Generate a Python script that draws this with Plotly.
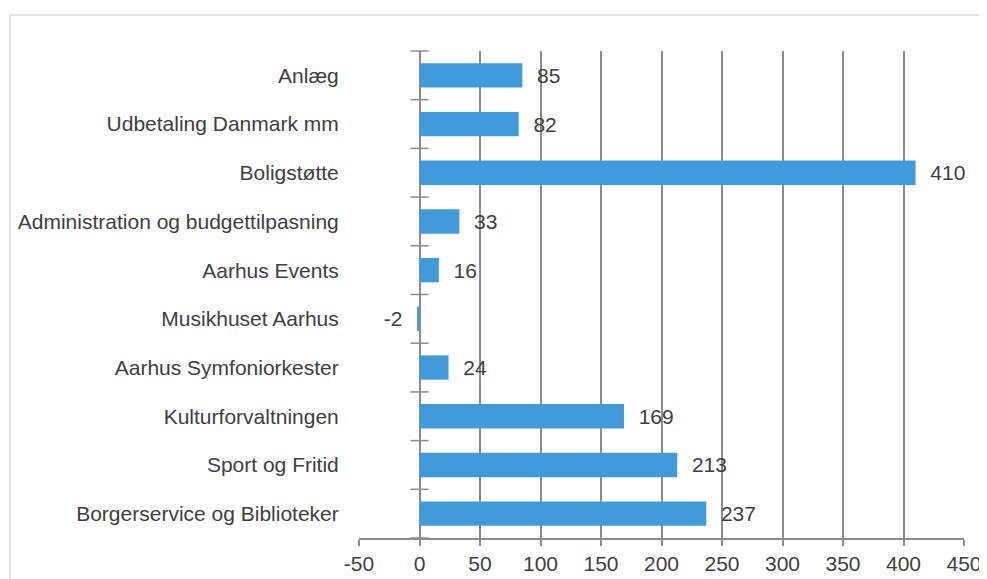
import plotly.graph_objects as go

categories = ['Anlæg', 'Udbetaling Danmark mm', 'Boligstøtte', 'Administration og budgettilpasning',
              'Aarhus Events', 'Musikhuset Aarhus', 'Aarhus Symfoniorkester', 'Kulturforvaltningen',
              'Sport og Fritid', 'Borgerservice og Biblioteker']
values = [85, 82, 410, 33, 16, -2, 24, 169, 213, 237]
x_ticks = [-50, 0, 50, 100, 150, 200, 250, 300, 350, 400, 450]

BAR = '#419bdb'
GRID = '#8c8c8c'
TXT = '#404040'
FONT = 'Liberation Sans, Arial, sans-serif'
FS = 21

# bottom category first so Anlæg ends up at the top
cats = categories[::-1]
vals = values[::-1]
pos = list(range(len(cats)))
bounds = [p - 0.5 for p in range(len(cats) + 1)]
yr = [-0.5, len(cats) - 0.5]
xr = [x_ticks[0], x_ticks[-1]]


def label(v):
    pad = '\u00a0' * 2
    return f'{pad}{v}' if v >= 0 else f'{v}{pad}'


fig = go.Figure()
fig.add_trace(go.Bar(
    x=vals, y=pos, orientation='h', marker=dict(color=BAR, line=dict(width=0)),
    text=[label(v) for v in vals], textposition='outside', cliponaxis=False,
    constraintext='none', textfont=dict(size=FS, color=TXT, family=FONT),
    width=0.5, hoverinfo='skip'))

# category tick marks crossing the zero line
fig.add_trace(go.Scatter(
    x=[0] * len(bounds), y=bounds, mode='markers', cliponaxis=False, hoverinfo='skip',
    marker=dict(symbol='line-ew', size=13, line=dict(color=GRID, width=1.5))))

# page body has an 8px margin, so the figure is a bit smaller than the window
fig.update_layout(
    width=979, height=571,
    margin=dict(l=351, r=23, t=43, b=41, autoexpand=False),
    paper_bgcolor='white', plot_bgcolor='white',
    showlegend=False,
    font=dict(family=FONT, size=FS, color=TXT),
    xaxis=dict(range=xr, tickvals=x_ticks, ticktext=[str(t) for t in x_ticks],
               showgrid=True, gridcolor=GRID, gridwidth=1.5,
               zeroline=True, zerolinecolor=GRID, zerolinewidth=1.5,
               showline=True, linecolor=GRID, linewidth=1.5, automargin=False,
               ticks='outside', ticklen=6, tickcolor=GRID, tickwidth=1.5,
               tickfont=dict(size=FS, color=TXT)),
    yaxis=dict(range=yr, tickvals=pos, ticktext=cats, showgrid=False, zeroline=False,
               showline=False, ticks='outside', ticklen=0, ticklabelstandoff=15,
               automargin=False, tickfont=dict(size=FS, color=TXT)),
    shapes=[dict(type='rect', xref='paper', yref='paper', x0=-0.577, x1=1.2, y0=-0.2, y1=1.074,
                 line=dict(color='#d9d9d9', width=1.5), fillcolor='rgba(0,0,0,0)', layer='below')],
)

fig.write_html('out.html')
